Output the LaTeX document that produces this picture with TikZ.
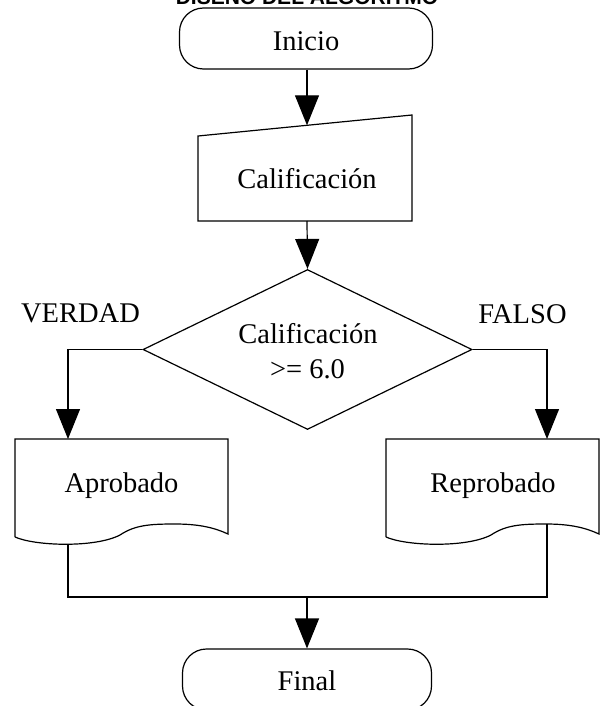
\documentclass[tikz,border=0pt]{standalone}
\usepackage{fontspec}
\setmainfont{Liberation Serif}
\newfontfamily\titlefont{Liberation Sans}
\usetikzlibrary{arrows.meta,shapes.geometric}
\begin{document}
\begin{tikzpicture}[x=1pt,y=-1pt,line width=1.2pt,
  lbl/.style={font=\fontsize{28.5}{30}\selectfont,inner sep=0pt,anchor=base},
  arr/.style={-{Triangle[width=24pt,length=30pt]}},
  term/.style={draw,rounded corners=24pt,minimum height=61pt,inner sep=0pt,font=\fontsize{28.5}{30}\selectfont}]
\useasboundingbox (0,0) rectangle (605,706);
\clip (0,0) rectangle (605,706);
% title
\node[anchor=base,inner sep=0pt,font=\titlefont\bfseries\fontsize{21}{21}\selectfont] (title) at (307,5) {DISEÑO DEL ALGORITMO};
% start
\node[term,minimum width=253pt] (inicio) at (306,38.5) {};
\node[lbl] (iniciot) at (306,51) {Inicio};
% manual input
\draw (198,136) -- (412,115) -- (412,221) -- (198,221) -- cycle;
\node[lbl] (calif) at (307,188) {Calificación};
\coordinate (caltop) at (307,125.3);
\coordinate (calbot) at (307,221);
\draw[arr] (inicio.south -| caltop) -- (caltop);
% decision
\node[draw,diamond,minimum width=329pt,minimum height=160pt,inner sep=0pt] (dec) at (307.5,349.5) {};
\node[lbl] (dect1) at (308,343) {Calificación};
\node[lbl] (dect2) at (307.5,378) {>= 6.0};
\draw[arr] (calbot) -- (dec.north);
\node[lbl] (verdad) at (80.5,322) {VERDAD};
\node[lbl] (falso) at (522.5,323) {FALSO};
% outputs (document shapes)
\foreach \L in {15,386}{
  \draw (\L,537) -- (\L,439) -- (\L+213,439) -- (\L+213,534)
    .. controls (\L+200,528) and (\L+185,524) .. (\L+160,524)
    .. controls (\L+135,524) and (\L+120,525) .. (\L+105,535)
    .. controls (\L+80,548) and (\L+20,546) .. (\L,537);
}
\node[lbl] (apr) at (121.5,492) {Aprobado};
\node[lbl] (rep) at (493,492) {Reprobado};
\coordinate (aprtop) at (68,439);
\coordinate (reptop) at (547,439);
\draw[arr] (dec.west) -| (aprtop);
\draw[arr] (dec.east) -| (reptop);
% merge
\coordinate (aprbot) at (68,544.5);
\coordinate (repbot) at (547,524);
\coordinate (join) at (307,597);
\draw (aprbot) |- (join) -| (repbot);
% end
\node[term,minimum width=249pt] (final) at (307,679.5) {};
\node[lbl] (finalt) at (307,690) {Final};
\draw[arr] (join) -- (final.north);
\end{tikzpicture}
\end{document}
